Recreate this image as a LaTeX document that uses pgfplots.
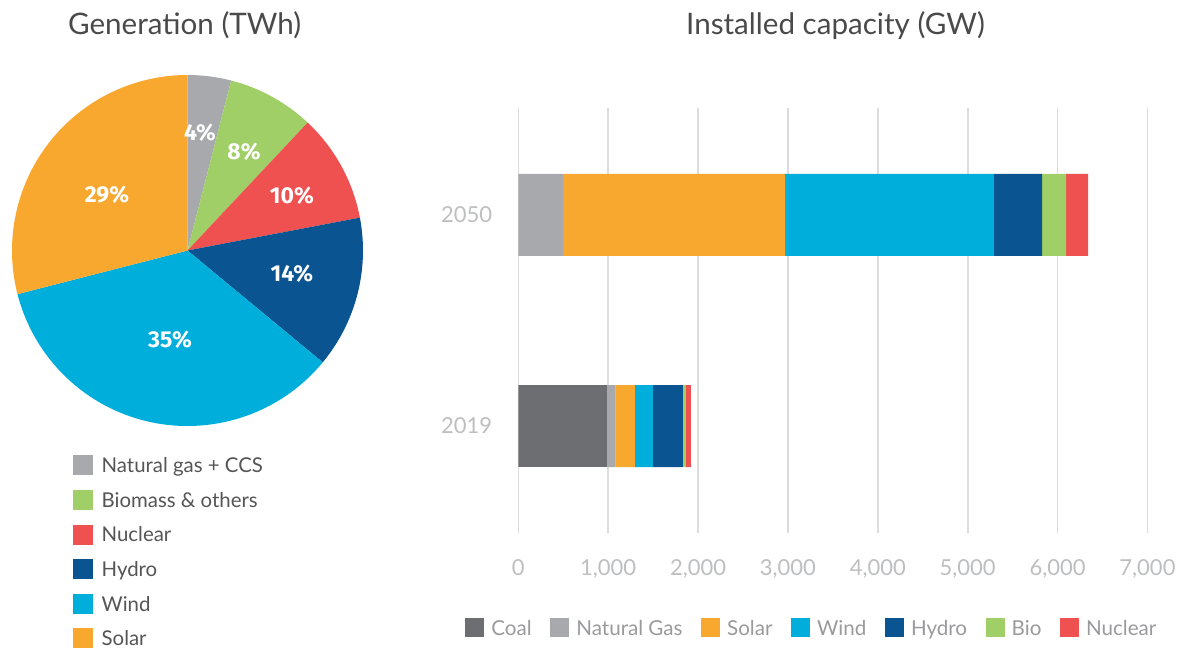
\documentclass[border=0pt]{standalone}
\usepackage{fontspec}
\setmainfont{Lato}
\newfontfamily\pctfont{Fira Sans}
\usepackage{pgfplots}
\pgfplotsset{compat=1.18}
\definecolor{ccoal}{HTML}{6D6E71}
\definecolor{cgas}{HTML}{A7A9AC}
\definecolor{csolar}{HTML}{F9A82F}
\definecolor{cwind}{HTML}{00AEDB}
\definecolor{chydro}{HTML}{0A5591}
\definecolor{cbio}{HTML}{A0CE67}
\definecolor{cnuc}{HTML}{EF5151}
\definecolor{ctitle}{HTML}{4A4A4A}
\definecolor{cleg}{HTML}{555555}
\definecolor{cleg2}{HTML}{9A9A9C}
\definecolor{ctick}{HTML}{BDBEC0}
\definecolor{cgrid}{HTML}{DCDCDC}
\pgfplotsset{sq/.style={legend image code/.code={\fill[#1] (0pt,-4.75pt) rectangle (9.5pt,4.75pt);}}}
\tikzset{pct/.style={text=white, font=\pctfont\bfseries\fontsize{11.5}{13}\selectfont}}
\begin{document}
\begin{tikzpicture}
\path[use as bounding box] (0,0) rectangle (591pt,324pt);
\node[anchor=base, font=\fontsize{14.8}{17}\selectfont, text=ctitle] at (92.35pt,306.5pt) {Generation (TWh)};
\node[anchor=base, font=\fontsize{14.8}{17}\selectfont, text=ctitle] at (417.75pt,306.8pt) {Installed capacity (GW)};
% pie shares (%), clockwise from the top
\pgfmathsetmacro\aA{90}
\pgfmathsetmacro\aB{\aA-3.6*4}
\pgfmathsetmacro\aC{\aB-3.6*8}
\pgfmathsetmacro\aD{\aC-3.6*10}
\pgfmathsetmacro\aE{\aD-3.6*14}
\pgfmathsetmacro\aF{\aE-3.6*35}
\pgfmathsetmacro\aG{\aF-3.6*29}
\begin{axis}[hide axis, clip=false, x=87.75pt, y=87.75pt,
  xmin=-1, xmax=1, ymin=-1, ymax=1,
  at={(93.75pt,198.75pt)}, anchor=center,
  legend cell align=left,
  legend style={at={(0.1718,-0.0826)}, anchor=north west, draw=none, fill=none,
    inner sep=0pt, row sep=7.4pt, font=\fontsize{10.2}{12}\selectfont, text=cleg,
    nodes={inner xsep=4.6pt, inner ysep=0pt, text height=7.5pt, text depth=0pt}}]
\fill[cgas] (axis cs:0,0) -- (axis cs:{cos(\aA)},{sin(\aA)}) arc[start angle=\aA, end angle=\aB, radius=87.75pt] -- cycle;
\fill[cbio] (axis cs:0,0) -- (axis cs:{cos(\aB)},{sin(\aB)}) arc[start angle=\aB, end angle=\aC, radius=87.75pt] -- cycle;
\fill[cnuc] (axis cs:0,0) -- (axis cs:{cos(\aC)},{sin(\aC)}) arc[start angle=\aC, end angle=\aD, radius=87.75pt] -- cycle;
\fill[chydro] (axis cs:0,0) -- (axis cs:{cos(\aD)},{sin(\aD)}) arc[start angle=\aD, end angle=\aE, radius=87.75pt] -- cycle;
\fill[cwind] (axis cs:0,0) -- (axis cs:{cos(\aE)},{sin(\aE)}) arc[start angle=\aE, end angle=\aF, radius=87.75pt] -- cycle;
\fill[csolar] (axis cs:0,0) -- (axis cs:{cos(\aF)},{sin(\aF)}) arc[start angle=\aF, end angle=\aG, radius=87.75pt] -- cycle;
\node[pct] at (axis cs:0.071,0.67) {4\%};
\node[pct] at (axis cs:0.322,0.561) {8\%};
\node[pct] at (axis cs:0.595,0.311) {10\%};
\node[pct] at (axis cs:0.595,-0.134) {14\%};
\node[pct] at (axis cs:-0.10,-0.51) {35\%};
\node[pct] at (axis cs:-0.459,0.316) {29\%};
\addlegendimage{sq=cgas}\addlegendentry{Natural gas + CCS}
\addlegendimage{sq=cbio}\addlegendentry{Biomass \& others}
\addlegendimage{sq=cnuc}\addlegendentry{Nuclear}
\addlegendimage{sq=chydro}\addlegendentry{Hydro}
\addlegendimage{sq=cwind}\addlegendentry{Wind}
\addlegendimage{sq=csolar}\addlegendentry{Solar}
\end{axis}
\begin{axis}[at={(259.15pt,57.5pt)}, anchor=south west, scale only axis,
  width=314.6pt, height=212.5pt,
  xbar stacked, bar width=41pt,
  xmin=0, xmax=7000, ymin=-0.507, ymax=1.507,
  xtick={0,1000,...,7000}, ytick={0,1}, yticklabels={2019,2050},
  xmajorgrids, grid style={color=cgrid, line width=0.8pt},
  axis line style={draw=none}, major tick length=0pt,
  scaled x ticks=false,
  /pgf/number format/1000 sep={,},
  /pgf/number format/assume math mode=true,
  ticklabel style={font=\fontsize{11}{13}\selectfont, text=ctick},
  xticklabel style={yshift=-9.5pt},
  yticklabel style={xshift=-9.5pt},
  legend columns=-1,
  legend style={at={(-0.0847,-0.2235)}, anchor=west, draw=none, fill=none,
    inner sep=0pt, font=\fontsize{10.3}{12}\selectfont, text=cleg2,
    nodes={inner xsep=3.5pt, inner ysep=0pt, text height=7.5pt, text depth=0pt},
    /tikz/every even column/.append style={column sep=5.8pt}}]
\addplot[fill=ccoal, draw=none, sq=ccoal] coordinates {(985,0) (0,1)};
\addplot[fill=cgas, draw=none, sq=cgas] coordinates {(97,0) (495,1)};
\addplot[fill=csolar, draw=none, sq=csolar] coordinates {(215,0) (2474,1)};
\addplot[fill=cwind, draw=none, sq=cwind] coordinates {(200,0) (2323,1)};
\addplot[fill=chydro, draw=none, sq=chydro] coordinates {(333,0) (537,1)};
\addplot[fill=cbio, draw=none, sq=cbio] coordinates {(33,0) (265,1)};
\addplot[fill=cnuc, draw=none, sq=cnuc] coordinates {(56,0) (246,1)};
\legend{Coal, Natural Gas, Solar, Wind, Hydro, Bio, Nuclear}
\end{axis}
\end{tikzpicture}
\end{document}
